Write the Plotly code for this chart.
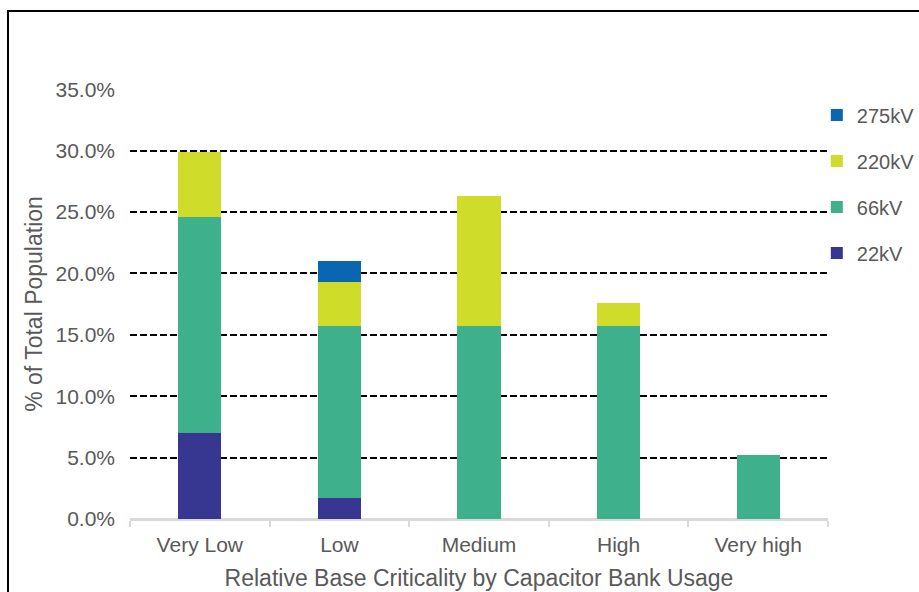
import plotly.graph_objects as go

categories = ["Very Low", "Low", "Medium", "High", "Very high"]
series_names = ["22kV", "66kV", "220kV", "275kV"]
kv22 = [0.070, 0.017, 0.0, 0.0, 0.0]
kv66 = [0.176, 0.140, 0.157, 0.157, 0.052]
kv220 = [0.053, 0.036, 0.106, 0.019, 0.0]
kv275 = [0.0, 0.017, 0.0, 0.0, 0.0]
colors = ["#373791", "#3fb08c", "#cfdc29", "#0b66b2"]
y_ticks = [0.0, 0.05, 0.10, 0.15, 0.20, 0.25, 0.30, 0.35]

font_family = "Liberation Sans, Arial, sans-serif"
grey = "#595959"

fig = go.Figure()
for i, (name, vals, col) in enumerate(zip(series_names, [kv22, kv66, kv220, kv275], colors)):
    fig.add_trace(go.Bar(
        x=categories, y=vals, name=name, marker_color=col,
        marker_line_width=0, width=0.31, legendgroup=name,
        legendrank=1000 - i,
    ))

fig.update_layout(
    barmode="stack",
    width=919, height=592,
    margin=dict(l=130, r=91, t=89, b=73, autoexpand=False),
    paper_bgcolor="white", plot_bgcolor="white",
    font=dict(family=font_family, color=grey, size=21),
    showlegend=True,
    legend=dict(
        x=0.984, y=0.985, xanchor="left", yanchor="top",
        traceorder="grouped", tracegroupgap=17,
        font=dict(size=20, color=grey), bgcolor="rgba(0,0,0,0)",
        itemwidth=30,
    ),
    xaxis=dict(
        showline=True, linecolor="#d9d9d9", linewidth=2,
        ticks="outside", tickson="boundaries", ticklen=6, tickcolor="#d9d9d9", tickwidth=2,
        tickfont=dict(size=21, color=grey), ticklabelstandoff=6,
        title=dict(text="Relative Base Criticality by Capacitor Bank Usage",
                   font=dict(size=23, color=grey), standoff=15),
        showgrid=False,
    ),
    yaxis=dict(
        range=[0, 0.3502], tickvals=y_ticks, tickformat=".1%",
        showgrid=True, gridcolor="black", gridwidth=2, griddash="7px,3px",
        zeroline=True, zerolinecolor="#d9d9d9", zerolinewidth=2,
        showline=False, ticks="", ticklabelstandoff=14,
        tickfont=dict(size=21, color=grey),
        title=dict(text="% of Total Population", font=dict(size=23, color=grey), standoff=6),
    ),
    shapes=[dict(type="rect", xref="paper", yref="paper",
                 x0=(8 - 130) / 698, x1=2.0, y0=-1.0, y1=1 + (89 - 11) / 430,
                 line=dict(color="black", width=2), fillcolor="rgba(0,0,0,0)", layer="below")],
)

fig.write_html("out.html")
